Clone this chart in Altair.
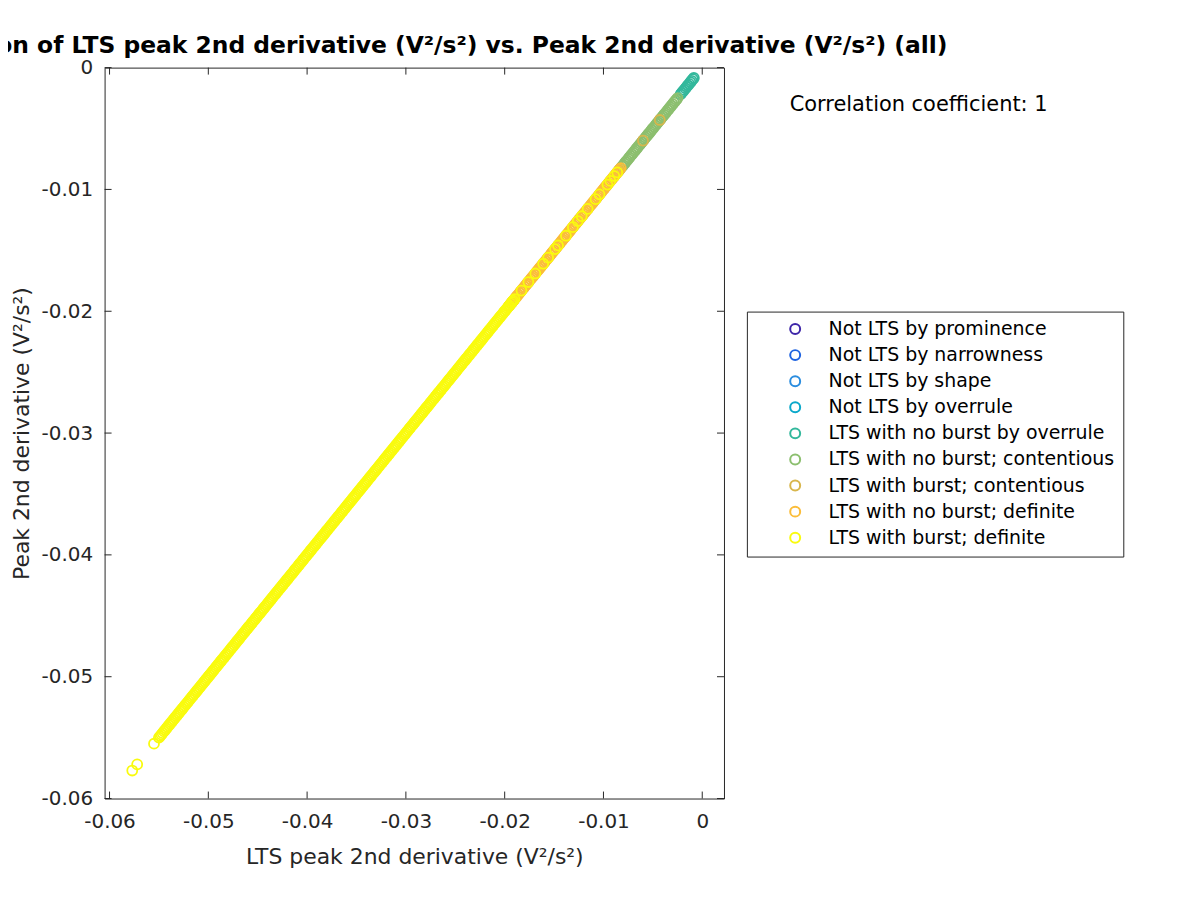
import altair as alt
import pandas as pd

categories = [
    "Not LTS by prominence",
    "Not LTS by narrowness",
    "Not LTS by shape",
    "Not LTS by overrule",
    "LTS with no burst by overrule",
    "LTS with no burst; contentious",
    "LTS with burst; contentious",
    "LTS with no burst; definite",
    "LTS with burst; definite",
]
colors = ["#3e26a8", "#1f63e0", "#2b8ddf", "#0aa8ca", "#33b89c",
          "#8cbf6f", "#d8b64c", "#fbbd3a", "#f9fb0e"]

x_ticks = [-0.06, -0.05, -0.04, -0.03, -0.02, -0.01, 0.0]
y_ticks = [-0.06, -0.05, -0.04, -0.03, -0.02, -0.01, 0.0]

# LTS with no burst by overrule
teal_v = [-0.00220, -0.00208, -0.00195, -0.00183, -0.00170, -0.00158, -0.00145,
          -0.00133, -0.00120, -0.00108, -0.00095, -0.00085]

# LTS with no burst; contentious
green_v = [-0.00850, -0.00838, -0.00825, -0.00812, -0.00800, -0.00787, -0.00775, -0.00763,
           -0.00749, -0.00738, -0.00725, -0.00712, -0.00700, -0.00688, -0.00674, -0.00662,
           -0.00651, -0.00637, -0.00624, -0.00613, -0.00600, -0.00587, -0.00575, -0.00563,
           -0.00549, -0.00538, -0.00525, -0.00512, -0.00500, -0.00488, -0.00474, -0.00462,
           -0.00451, -0.00437, -0.00424, -0.00413, -0.00400, -0.00387, -0.00375, -0.00363,
           -0.00349, -0.00338, -0.00325, -0.00312, -0.00300, -0.00288, -0.00274, -0.00262,
           -0.00250]

# LTS with burst; contentious
gold_v = [-0.0060, -0.0043]

# LTS with no burst; definite
orange_v = [-0.01960, -0.01948, -0.01935, -0.01922, -0.01910,
            -0.01900, -0.01887, -0.01875, -0.01863, -0.01849, -0.01838, -0.01825, -0.01812,
            -0.01800, -0.01788, -0.01774, -0.01762, -0.01751, -0.01737, -0.01724, -0.01713,
            -0.01700, -0.01687, -0.01675, -0.01663, -0.01649, -0.01638, -0.01625, -0.01612,
            -0.01600, -0.01588, -0.01574, -0.01562, -0.01551, -0.01537, -0.01524, -0.01513,
            -0.01500, -0.01487, -0.01475, -0.01463, -0.01449, -0.01438, -0.01425, -0.01412,
            -0.01400, -0.01388, -0.01374, -0.01362, -0.01351, -0.01337, -0.01324, -0.01313,
            -0.01300, -0.01287, -0.01275, -0.01263, -0.01249, -0.01238, -0.01225, -0.01212,
            -0.01200, -0.01188, -0.01174, -0.01162, -0.01151, -0.01137, -0.01124, -0.01113,
            -0.01100, -0.01087, -0.01075, -0.01063, -0.01049, -0.01038, -0.01025, -0.01012,
            -0.01000, -0.00988, -0.00974, -0.00962, -0.00951, -0.00937, -0.00924, -0.00913,
            -0.00900, -0.00887, -0.00875, -0.00863, -0.00849, -0.00838, -0.00825]

# LTS with burst; definite
yellow_outliers = [-0.0577, -0.0572, -0.0555]
yellow_dense = [
    -0.05500, -0.05487, -0.05475, -0.05463, -0.05449, -0.05438, -0.05425, -0.05412,
    -0.05400, -0.05388, -0.05374, -0.05362, -0.05351, -0.05337, -0.05324, -0.05313,
    -0.05300, -0.05287, -0.05275, -0.05263, -0.05249, -0.05238, -0.05225, -0.05212,
    -0.05200, -0.05188, -0.05174, -0.05162, -0.05151, -0.05137, -0.05124, -0.05113,
    -0.05100, -0.05087, -0.05075, -0.05063, -0.05049, -0.05038, -0.05025, -0.05012,
    -0.05000, -0.04988, -0.04974, -0.04962, -0.04951, -0.04937, -0.04924, -0.04913,
    -0.04900, -0.04887, -0.04875, -0.04863, -0.04849, -0.04838, -0.04825, -0.04812,
    -0.04800, -0.04788, -0.04774, -0.04762, -0.04751, -0.04737, -0.04724, -0.04713,
    -0.04700, -0.04687, -0.04675, -0.04663, -0.04649, -0.04638, -0.04625, -0.04612,
    -0.04600, -0.04588, -0.04574, -0.04562, -0.04551, -0.04537, -0.04524, -0.04513,
    -0.04500, -0.04487, -0.04475, -0.04463, -0.04449, -0.04438, -0.04425, -0.04412,
    -0.04400, -0.04388, -0.04374, -0.04362, -0.04351, -0.04337, -0.04324, -0.04313,
    -0.04300, -0.04287, -0.04275, -0.04263, -0.04249, -0.04238, -0.04225, -0.04212,
    -0.04200, -0.04188, -0.04174, -0.04162, -0.04151, -0.04137, -0.04124, -0.04113,
    -0.04100, -0.04087, -0.04075, -0.04063, -0.04049, -0.04038, -0.04025, -0.04012,
    -0.04000, -0.03988, -0.03974, -0.03962, -0.03951, -0.03937, -0.03924, -0.03913,
    -0.03900, -0.03887, -0.03875, -0.03863, -0.03849, -0.03838, -0.03825, -0.03812,
    -0.03800, -0.03788, -0.03774, -0.03762, -0.03751, -0.03737, -0.03724, -0.03713,
    -0.03700, -0.03687, -0.03675, -0.03663, -0.03649, -0.03638, -0.03625, -0.03612,
    -0.03600, -0.03588, -0.03574, -0.03562, -0.03551, -0.03537, -0.03524, -0.03513,
    -0.03500, -0.03487, -0.03475, -0.03463, -0.03449, -0.03438, -0.03425, -0.03412,
    -0.03400, -0.03388, -0.03374, -0.03362, -0.03351, -0.03337, -0.03324, -0.03313,
    -0.03300, -0.03287, -0.03275, -0.03263, -0.03249, -0.03238, -0.03225, -0.03212,
    -0.03200, -0.03188, -0.03174, -0.03162, -0.03151, -0.03137, -0.03124, -0.03113,
    -0.03100, -0.03087, -0.03075, -0.03063, -0.03049, -0.03038, -0.03025, -0.03012,
    -0.03000, -0.02988, -0.02974, -0.02962, -0.02951, -0.02937, -0.02924, -0.02913,
    -0.02900, -0.02887, -0.02875, -0.02863, -0.02849, -0.02838, -0.02825, -0.02812,
    -0.02800, -0.02788, -0.02774, -0.02762, -0.02751, -0.02737, -0.02724, -0.02713,
    -0.02700, -0.02687, -0.02675, -0.02663, -0.02649, -0.02638, -0.02625, -0.02612,
    -0.02600, -0.02588, -0.02574, -0.02562, -0.02551, -0.02537, -0.02524, -0.02513,
    -0.02500, -0.02487, -0.02475, -0.02463, -0.02449, -0.02438, -0.02425, -0.02412,
    -0.02400, -0.02388, -0.02374, -0.02362, -0.02351, -0.02337, -0.02324, -0.02313,
    -0.02300, -0.02287, -0.02275, -0.02263, -0.02249, -0.02238, -0.02225, -0.02212,
    -0.02200, -0.02188, -0.02174, -0.02162, -0.02151, -0.02137, -0.02124, -0.02113,
    -0.02100, -0.02087, -0.02075, -0.02063, -0.02049, -0.02038, -0.02025, -0.02012,
    -0.02000, -0.01988, -0.01974, -0.01962, -0.01951, -0.01937, -0.01924, -0.01913,
    -0.01900,
]
yellow_sparse = [-0.0183, -0.0176, -0.0169, -0.0161, -0.0156, -0.0149, -0.0146, -0.0138,
                 -0.0131, -0.0126, -0.0122, -0.0116, -0.0108, -0.0104, -0.0096, -0.0093,
                 -0.0089, -0.0086]

title_text = ("Correlation of LTS peak 2nd derivative (V\u00b2/s\u00b2) vs. "
              "Peak 2nd derivative (V\u00b2/s\u00b2) (all)")
x_title = "LTS peak 2nd derivative (V\u00b2/s\u00b2)"
y_title = "Peak 2nd derivative (V\u00b2/s\u00b2)"
corr_text = "Correlation coefficient: 1"

rows = []
groups = [
    (categories[4], teal_v),
    (categories[5], green_v),
    (categories[6], gold_v),
    (categories[7], orange_v),
    (categories[8], yellow_dense + yellow_outliers + yellow_sparse),
]
for cat, vals in groups:
    for v in vals:
        # correlation coefficient 1: both measures are identical
        rows.append({"x": v, "y": v, "cat": cat})
df = pd.DataFrame(rows)

FONT = "DejaVu Sans"
AX = "#262626"
W, H = 622, 734

xs = alt.Scale(domain=[-0.0605, 0.0022], nice=False, zero=False)
ys = alt.Scale(domain=[-0.06, 0.0], nice=False, zero=False)
label_expr = "datum.value == 0 ? '0' : replace(format(datum.value, '.2f'), '\u2212', '-')"

x_axis = alt.Axis(
    values=x_ticks, labelExpr=label_expr, ticks=False, domain=False, grid=False,
    labelFontSize=20, labelFont=FONT, labelColor=AX, labelPadding=13, labelFlush=False,
    title=x_title, titleFontSize=22, titleFont=FONT, titleFontWeight="normal",
    titleColor=AX, titlePadding=15)
y_axis = alt.Axis(
    values=y_ticks, labelExpr=label_expr, ticks=False, domain=False, grid=False,
    labelFontSize=20, labelFont=FONT, labelColor=AX, labelPadding=12, labelFlush=False,
    title=y_title, titleFontSize=22, titleFont=FONT, titleFontWeight="normal",
    titleColor=AX, titlePadding=8)

points = alt.Chart(df).mark_point(
    filled=False, size=100, strokeWidth=1.8, opacity=1, shape="circle"
).encode(
    x=alt.X("x:Q", scale=xs, axis=x_axis),
    y=alt.Y("y:Q", scale=ys, axis=y_axis),
    color=alt.Color("cat:N", scale=alt.Scale(domain=categories, range=colors),
                    legend=alt.Legend(title=None, orient="none", legendX=645, legendY=245)),
)

xt = pd.DataFrame({"x": x_ticks})
yt = pd.DataFrame({"y": y_ticks})
tick_len = 7
rule_kw = dict(color=AX, strokeWidth=1)
tb = alt.Chart(xt).mark_rule(**rule_kw).encode(
    x=alt.X("x:Q", scale=xs, axis=x_axis), y=alt.value(H), y2=alt.value(H - tick_len))
tt = alt.Chart(xt).mark_rule(**rule_kw).encode(
    x=alt.X("x:Q", scale=xs, axis=x_axis), y=alt.value(0), y2=alt.value(tick_len))
tl = alt.Chart(yt).mark_rule(**rule_kw).encode(
    y=alt.Y("y:Q", scale=ys, axis=y_axis), x=alt.value(0), x2=alt.value(tick_len))
tr = alt.Chart(yt).mark_rule(**rule_kw).encode(
    y=alt.Y("y:Q", scale=ys, axis=y_axis), x=alt.value(W), x2=alt.value(W - tick_len))

corr = alt.Chart(pd.DataFrame({"s": [corr_text]})).mark_text(
    align="left", baseline="middle", fontSize=21, font=FONT, color="black"
).encode(x=alt.value(688), y=alt.value(38), text="s:N")

title = alt.Chart(pd.DataFrame({"s": [title_text]})).mark_text(
    align="center", baseline="middle", fontSize=23.5, font=FONT, fontWeight="bold", color="black"
).encode(x=alt.value(W / 2), y=alt.value(-22), text="s:N")

chart = alt.layer(points, tb, tt, tl, tr, corr, title).properties(
    width=W, height=H,
    autosize=alt.AutoSizeParams(type="none"),
    padding={"left": 97, "top": 58, "right": 470, "bottom": 92},
).configure_view(
    stroke=AX, strokeWidth=1
).configure_legend(
    strokeColor=AX, fillColor="white", padding=8, symbolOffset=31, labelOffset=24,
    labelFontSize=19, labelFont=FONT, labelColor="black", rowPadding=6.2,
    symbolSize=100, symbolStrokeWidth=2, symbolType="circle", labelLimit=400,
)

chart.save("out.html", embed_options={"renderer": "svg", "actions": False})
